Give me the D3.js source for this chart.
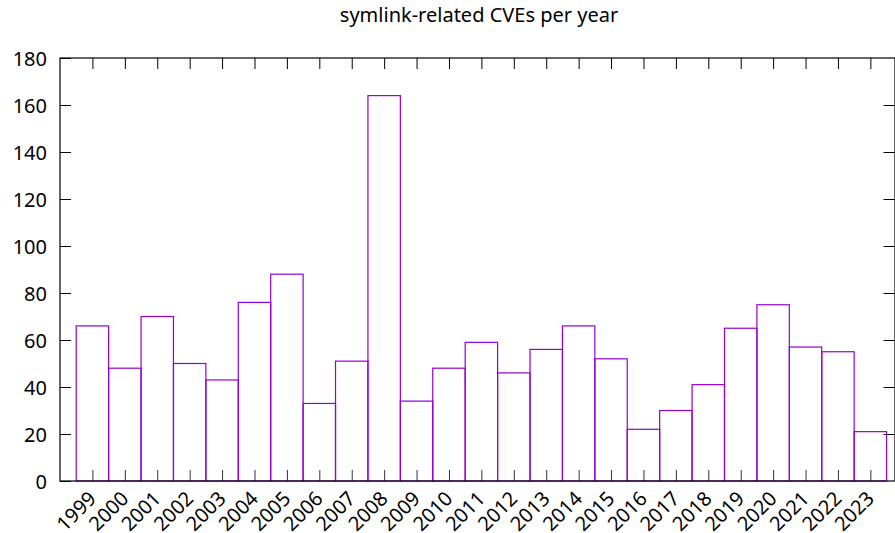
<!DOCTYPE html>
<html>
<head>
  <meta charset="UTF-8">
  <title>symlink-related CVEs per year</title>
  <script src="https://cdn.jsdelivr.net/npm/d3@7"></script>
  <style>
    body { margin: 0; background: #fff; }
    text { font-family: "Noto Sans", "Open Sans", sans-serif; fill: #000; }
  </style>
</head>
<body>
<script>
  // data
  var years = ['1999', '2000', '2001', '2002', '2003', '2004', '2005', '2006', '2007', '2008',
               '2009', '2010', '2011', '2012', '2013', '2014', '2015', '2016', '2017', '2018',
               '2019', '2020', '2021', '2022', '2023'];
  var counts = [66, 48, 70, 50, 43, 76, 88, 33, 51, 164,
                34, 48, 59, 46, 56, 66, 52, 22, 30, 41,
                65, 75, 57, 55, 21];
  var yTicks = [0, 20, 40, 60, 80, 100, 120, 140, 160, 180];

  var W = 895, H = 533;
  var pLeft = 60, pRight = 895, pTop = 58, pBottom = 481;
  var tickLen = 11;
  var fontPx = 20;

  var svg = d3.select('body').append('svg')
      .attr('width', W)
      .attr('height', H);

  var x = d3.scaleLinear().domain([-1, 24.76]).range([pLeft, pRight]);
  var y = d3.scaleLinear().domain([0, 180]).range([pBottom, pTop]);

  // title
  svg.append('text')
      .attr('x', 479)
      .attr('y', 22)
      .attr('text-anchor', 'middle')
      .style('font-size', fontPx + 'px')
      .text('symlink-related CVEs per year');

  // bars
  svg.selectAll('rect.bar')
      .data(counts)
      .enter().append('rect')
      .attr('class', 'bar')
      .attr('x', function (d, i) { return x(i - 0.5); })
      .attr('width', function (d, i) { return x(i + 0.5) - x(i - 0.5); })
      .attr('y', function (d) { return y(d); })
      .attr('height', function (d) { return y(0) - y(d); })
      .attr('fill', 'none')
      .attr('stroke', '#9400d3')
      .attr('stroke-width', 1.2);

  // y ticks, mirrored on the right
  var yAxisL = d3.axisLeft(y).tickValues(yTicks).tickSize(-tickLen).tickPadding(13);
  var gy = svg.append('g').attr('transform', 'translate(' + pLeft + ',0)').call(yAxisL);
  gy.select('.domain').remove();
  gy.selectAll('text')
      .attr('font-family', null)
      .style('font-size', fontPx + 'px')
      .attr('dy', '0.36em');

  var yAxisR = d3.axisRight(y).tickValues(yTicks.slice(1, -1)).tickSize(-tickLen).tickFormat('');
  var gyr = svg.append('g').attr('transform', 'translate(' + (pRight - 0.5) + ',0)').call(yAxisR);
  gyr.select('.domain').remove();

  // x ticks bottom and top
  var idx = d3.range(years.length);
  var xAxisB = d3.axisBottom(x).tickValues(idx).tickSize(-tickLen).tickFormat('');
  var gx = svg.append('g').attr('transform', 'translate(0,' + pBottom + ')').call(xAxisB);
  gx.select('.domain').remove();
  gx.selectAll('line').attr('stroke', '#333');

  var xAxisT = d3.axisTop(x).tickValues(idx).tickSize(-tickLen).tickFormat('');
  var gxt = svg.append('g').attr('transform', 'translate(0,' + pTop + ')').call(xAxisT);
  gxt.select('.domain').remove();

  // rotated year labels
  svg.selectAll('text.year')
      .data(years)
      .enter().append('text')
      .attr('class', 'year')
      .attr('text-anchor', 'end')
      .style('font-size', fontPx + 'px')
      .attr('transform', function (d, i) {
        return 'translate(' + (x(i) - 5) + ',' + (pBottom + 9) + ') rotate(-45)';
      })
      .attr('dy', '0.7em')
      .text(function (d) { return d; });

  // border
  svg.append('rect')
      .attr('x', pLeft)
      .attr('y', pTop)
      .attr('width', pRight - pLeft)
      .attr('height', pBottom - pTop)
      .attr('fill', 'none')
      .attr('stroke', '#000')
      .attr('stroke-width', 1.2);
</script>
</body>
</html>
